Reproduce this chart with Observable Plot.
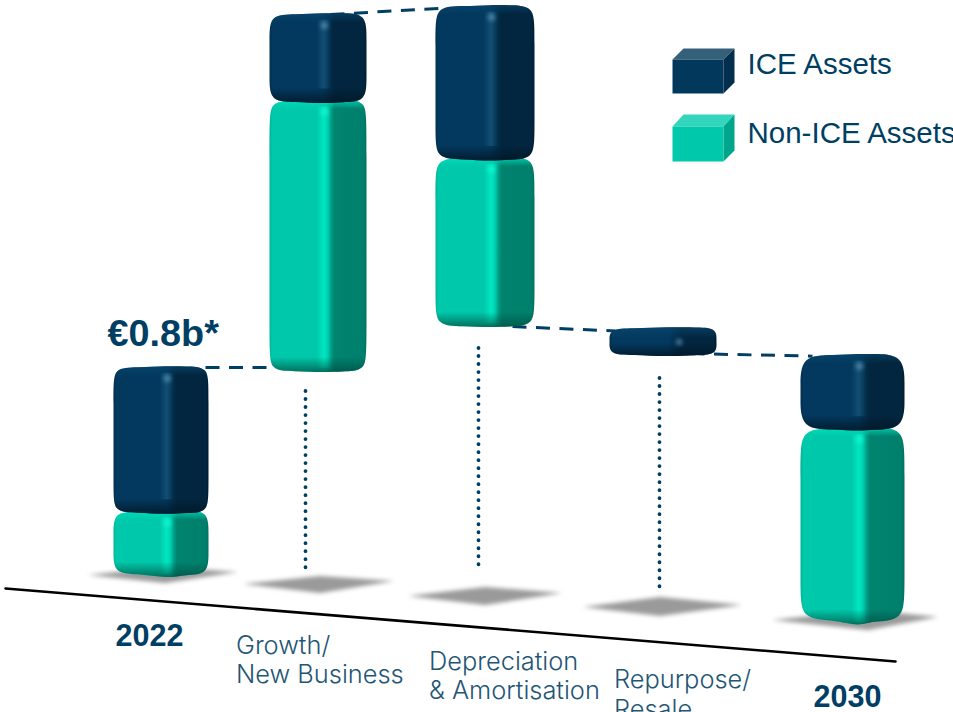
<!DOCTYPE html>
<html>
<head>
<meta charset="utf-8">
<script src="https://cdn.jsdelivr.net/npm/d3@7"></script>
<script src="https://cdn.jsdelivr.net/npm/@observablehq/plot@0.6"></script>
<style>
  html, body { margin: 0; padding: 0; background: #fff; overflow: hidden; }
  svg { display: block; }
</style>
</head>
<body>
<div id="chart"></div>
<script>
// Asset base bridge, € billions
const columns = ["2022", "Growth/\nNew Business", "Depreciation\n& Amortisation", "Repurpose/\nResale", "2030"];
const nonIceValues = [0.25, 1.03, 0.64, 0, 0.75];
const iceValues = [0.55, 0.33, 0.58, 0.09, 0.28];
const stackBase = [0, 0.785, 0.956, 0.853, -0.183];   // the floor runs downhill, so 2030 starts below 0
const stackTop = columns.map((c, i) => stackBase[i] + nonIceValues[i] + iceValues[i]);
const totalLabel = "€" + (iceValues[0] + nonIceValues[0]).toFixed(1) + "b*";

const W = 953, H = 712;
const unitPx = 262.5, floorPx = 577;
const lvl = py => (floorPx - py) / unitPx;       // drawing height to € level
const px = n => n / unitPx;                      // a pixel length in € units

// Column geometry on the sloping floor
const left = [113, 269, 435, 612, 800];
const width = [95, 97, 99, 101, 104];
const corner = [23, 25, 27, 13, 33];
const groundDip = [5, 1.5, 1.5, 1, 7];           // how far the near corner hangs below the sides

const segments = columns.flatMap((c, i) => {
  const a = stackBase[i], b = a + nonIceValues[i], t = b + iceValues[i];
  return [
    {i, kind: "green", y1: a, y2: b},
    {i, kind: "navy", y1: b, y2: t}
  ].filter(s => s.y2 > s.y1);
});
segments.forEach((s, n) => { s.n = n; });

const shadows = [
  {l: 88, m: 165, r: 238, ly: 575, ry: 572, t: 567, b: 583},
  {l: 243, m: 320, r: 394, ly: 584, ry: 581, t: 576, b: 593},
  {l: 408, m: 485, r: 562, ly: 596, ry: 593, t: 587, b: 605},
  {l: 583, m: 660, r: 742, ly: 607, ry: 605, t: 597, b: 616},
  {l: 772, m: 868, r: 938, ly: 620, ry: 617, t: 610, b: 630}
];

// Outline of one rounded block: control points for a closed B-spline,
// with the near edge of the box hanging slightly towards the viewer.
function outline(s) {
  const w = width[s.i], hPx = (s.y2 - s.y1) * unitPx;
  const thin = hPx < 30;
  const x1 = left[s.i] - (thin ? 3 : 0), x2 = left[s.i] + w + (thin ? 3 : 0), xe = left[s.i] + w * 0.57;
  const r = Math.min(corner[s.i], hPx / 2 + (thin ? 2 : 0));
  const rx = thin ? 22 : r;                      // the flat block closes as a pill
  const onGreen = s.kind === "navy" && nonIceValues[s.i] > 0;
  const dip = s.kind === "green" ? groundDip[s.i] : 2;
  const T = s.y2 + px(thin ? 3 : 1.5), B = s.y1 - px(onGreen ? 2.5 : thin ? 3 : 1);
  const tl = T - px(1.5), tr = T - px(0.5), bl = B + px(dip), br = B + px(dip * 0.8);
  return [
    [x1, tl - px(r)], [x1, tl], [x1 + rx, tl], [xe, T], [x2 - rx, tr], [x2, tr], [x2, tr - px(r)],
    [x2, br + px(r)], [x2, br], [x2 - rx, br], [xe, B], [x1 + rx, bl], [x1, bl], [x1, bl + px(r)]
  ].map(([x, y]) => ({x, y}));
}

function barMarks(s) {
  const x1 = left[s.i], w = width[s.i];
  const thin = s.y2 - s.y1 < px(30);
  const row = [{}];
  const shape = outline(s);
  const stripeX = x1 + w * (thin ? 0.66 : 0.565);
  const block = fill => Plot.line(shape, {x: "x", y: "y", fill, stroke: "none", curve: "basis-closed"});
  const marks = [block(`url(#face-${s.kind})`)];
  if (!thin) {
    marks.push(Plot.rect(row, {
      x1: stripeX - w * 0.075, x2: stripeX + w * 0.075,
      y1: s.y1 + px(s.kind === "navy" ? 12 : 3), y2: s.y2 - px(6),
      fill: `url(#stripe-${s.kind})`
    }));
  }
  marks.push(block(`url(#shade-${s.n})`));
  marks.push(Plot.dot(row, {
    x: stripeX, y: s.y2 - px(thin ? 12 : 11), r: thin ? 3 : 3.5,
    fill: s.kind === "green" ? "#12f5cf" : "#4a86a8",
    imageFilter: "blur(2px)"
  }));
  return marks;
}

// Dashed bridge between neighbouring columns
const bridges = [
  {x1: 205, x2: 275, y1: stackTop[0], y2: stackTop[0]},
  {x1: 330, x2: 442, y1: stackTop[1], y2: stackTop[2] - px(2)},
  {x1: 512, x2: 615, y1: stackBase[2], y2: stackTop[3] - px(1)},
  {x1: 690, x2: 812, y1: stackBase[3], y2: stackTop[4] - px(1)}
];

const dotted = [
  {x: 305, y1: lvl(391), y2: lvl(568)},
  {x: 478, y1: lvl(348), y2: lvl(565)},
  {x: 659, y1: lvl(378), y2: lvl(588)}
];

const floorLine = [{x: 5, y: lvl(588)}, {x: 895, y: lvl(661)}];

const strong = {fontFamily: "Liberation Sans", fontWeight: 700, fill: "#003f63", textAnchor: "start", lineAnchor: "middle"};
const light = {fontFamily: "Inter", fontWeight: 300, fontSize: 25.4, fill: "#1f5676", textAnchor: "start", lineAnchor: "middle"};
const legendText = {fontFamily: "Liberation Sans", fontSize: 29.5, fill: "#003f63", textAnchor: "start", lineAnchor: "middle"};

function cube(top, bottom, back, front, lid, side) {
  const fx1 = 672, fx2 = 723, bx1 = 683, bx2 = 734;
  const poly = (pts, fill) => Plot.line(pts.map(([x, y]) => ({x, y: lvl(y)})), {x: "x", y: "y", fill, stroke: "none"});
  return [
    poly([[fx1, top], [bx1, back], [bx2, back], [fx2, top]], lid),
    poly([[fx2, top], [bx2, back], [bx2, bottom - 11], [fx2, bottom]], side),
    poly([[fx1, top], [fx2, top], [fx2, bottom], [fx1, bottom]], front)
  ];
}

const shadowArea = shadows.flatMap((s, k) => [
  {k, x: s.l, y1: lvl(s.ly), y2: lvl(s.ly)},
  {k, x: s.m, y1: lvl(s.t), y2: lvl(s.b)},
  {k, x: s.r, y1: lvl(s.ry), y2: lvl(s.ry)}
]);

const chart = Plot.plot({
  width: W, height: H,
  margin: 0,
  x: {axis: null, domain: [0, W], range: [0, W]},
  y: {axis: null, domain: [lvl(H), lvl(0)], range: [H, 0]},
  marks: [
    Plot.areaY(shadowArea, {x: "x", y1: "y1", y2: "y2", z: "k", fill: "#9a9a9a", curve: "linear", imageFilter: "blur(2px)"}),
    Plot.line(floorLine, {x: "x", y: "y", stroke: "#000", strokeWidth: 2.6}),
    Plot.ruleX(dotted, {x: "x", y1: "y1", y2: "y2", stroke: "#003f63", strokeWidth: 3.8, strokeLinecap: "round", strokeDasharray: "0.01 8"}),
    Plot.link(bridges, {x1: "x1", x2: "x2", y1: "y1", y2: "y2", stroke: "#003f63", strokeWidth: 3, strokeDasharray: "14 9.5"}),
    ...segments.flatMap(barMarks),
    ...cube(59, 93, 48, "#02385c", "#356079", "#022f4d"),
    ...cube(126, 161, 114, "#00c8aa", "#33d6bd", "#00a68c"),
    Plot.text(["ICE Assets"], {text: d => d, x: 747, y: lvl(64), ...legendText}),
    Plot.text(["Non-ICE Assets"], {text: d => d, x: 747, y: lvl(133), ...legendText}),
    Plot.text([totalLabel], {text: d => d, x: 107, y: lvl(333), fontSize: 37.8, ...strong}),
    Plot.text([columns[0]], {text: d => d, x: 115, y: lvl(636), fontSize: 30.5, ...strong}),
    Plot.text([columns[4]], {text: d => d, x: 813, y: lvl(697), fontSize: 30.5, ...strong}),
    Plot.text([columns[1]], {text: d => d, x: 235.5, y: lvl(659), lineHeight: 1.14, ...light}),
    Plot.text([columns[2]], {text: d => d, x: 428.5, y: lvl(674.5), lineHeight: 1.14, ...light}),
    Plot.text([columns[3]], {text: d => d, x: 613.5, y: lvl(692.5), lineHeight: 1.18, ...light})
  ]
});

// Shading ramps shared by the rounded columns
const defs = d3.select(chart).insert("defs", ":first-child");
function ramp(id, stops, vertical) {
  const g = defs.append("linearGradient").attr("id", id)
    .attr("x1", 0).attr("y1", 0).attr("x2", vertical ? 0 : 1).attr("y2", vertical ? 1 : 0);
  stops.forEach(([o, c, a = 1]) => g.append("stop").attr("offset", o).attr("stop-color", c).attr("stop-opacity", a));
}
ramp("face-navy", [[0, "#022f4f"], [0.03, "#03395e"], [0.55, "#03395e"], [0.67, "#02263f"], [0.97, "#02263f"], [1, "#011c30"]]);
ramp("face-green", [[0, "#00b498"], [0.03, "#00c8aa"], [0.58, "#00c8aa"], [0.67, "#00836f"], [0.97, "#00806c"], [1, "#007060"]]);
ramp("stripe-navy", [[0, "#1d5d84", 0], [0.5, "#1d5d84", 0.6], [1, "#1d5d84", 0]]);
ramp("stripe-green", [[0, "#00e6c0", 0], [0.5, "#00e6c0", 1], [1, "#00e6c0", 0]]);

// Top bevel and bottom falloff are fixed pixel lengths, so each block has its own ramp
segments.forEach(s => {
  const h = (s.y2 - s.y1) * unitPx;
  const topEnd = Math.min(0.45, 9 / h), botStart = Math.max(0.55, 1 - 15 / h);
  const lit = s.kind === "green" ? "#00e0bc" : "#0a4a72";
  const dark = s.kind === "green" ? "#004a3e" : "#011626";
  ramp(`shade-${s.n}`, [
    [0, lit, s.kind === "green" ? 0.8 : 0.6], [topEnd, lit, 0],
    [botStart, dark, 0], [1, dark, s.kind === "green" ? 0.7 : 0.8]
  ], true);
});

document.getElementById("chart").append(chart);
</script>
</body>
</html>
